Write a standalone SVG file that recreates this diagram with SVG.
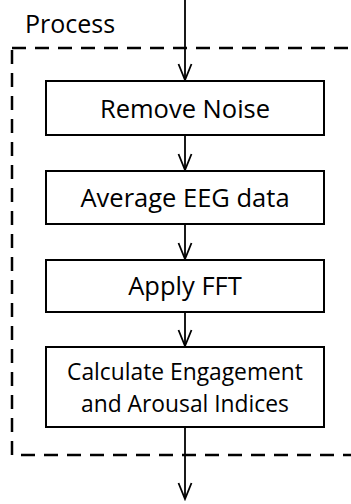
<svg xmlns="http://www.w3.org/2000/svg" width="351" height="504" viewBox="0 0 351 504">
  <style>
    .box { fill: #ffffff; stroke: #000000; stroke-width: 2; }
    .frame { fill: none; stroke: #000000; stroke-width: 2.5; stroke-dasharray: 14 9; }
    .edge { fill: none; stroke: #000000; stroke-width: 1.8; }
    .label { font-family: "Open Sans", "Liberation Sans", sans-serif; font-size: 25.5px; fill: #000000; text-anchor: middle; }
    .small { font-size: 22.8px; }
    .title { font-family: "Open Sans", "Liberation Sans", sans-serif; font-size: 25px; fill: #000000; }
  </style>
  <defs>
    <marker id="vhead" markerUnits="userSpaceOnUse" markerWidth="20" markerHeight="16" viewBox="-18 -8 20 16" refX="0" refY="0" orient="auto">
      <path d="M -16 -6.5 L 0 0 L -16 6.5" fill="none" stroke="#000000" stroke-width="1.8"/>
    </marker>
  </defs>

  <!-- process frame, open to the right -->
  <g id="process-frame">
    <rect class="frame" x="12" y="48" width="360" height="407"/>
    <text class="title" x="25" y="33">Process</text>
  </g>

  <g id="connectors">
    <path class="edge" d="M185 0 V80" marker-end="url(#vhead)"/>
    <path class="edge" d="M185 135 V170" marker-end="url(#vhead)"/>
    <path class="edge" d="M185 224 V259" marker-end="url(#vhead)"/>
    <path class="edge" d="M185 312 V346" marker-end="url(#vhead)"/>
    <path class="edge" d="M185 427 V499" marker-end="url(#vhead)"/>
  </g>

  <g id="remove-noise">
    <rect class="box" x="46" y="81" width="278" height="54"/>
    <text class="label" x="185" y="118">Remove Noise</text>
  </g>

  <g id="average-eeg">
    <rect class="box" x="46" y="171" width="278" height="53"/>
    <text class="label" x="185" y="207">Average EEG data</text>
  </g>

  <g id="apply-fft">
    <rect class="box" x="46" y="260" width="278" height="52"/>
    <text class="label" x="185" y="295">Apply FFT</text>
  </g>

  <g id="calculate-indices">
    <rect class="box" x="46" y="347" width="278" height="80"/>
    <text class="label small" x="185" y="380">Calculate Engagement</text>
    <text class="label small" x="185" y="412">and Arousal Indices</text>
  </g>
</svg>
